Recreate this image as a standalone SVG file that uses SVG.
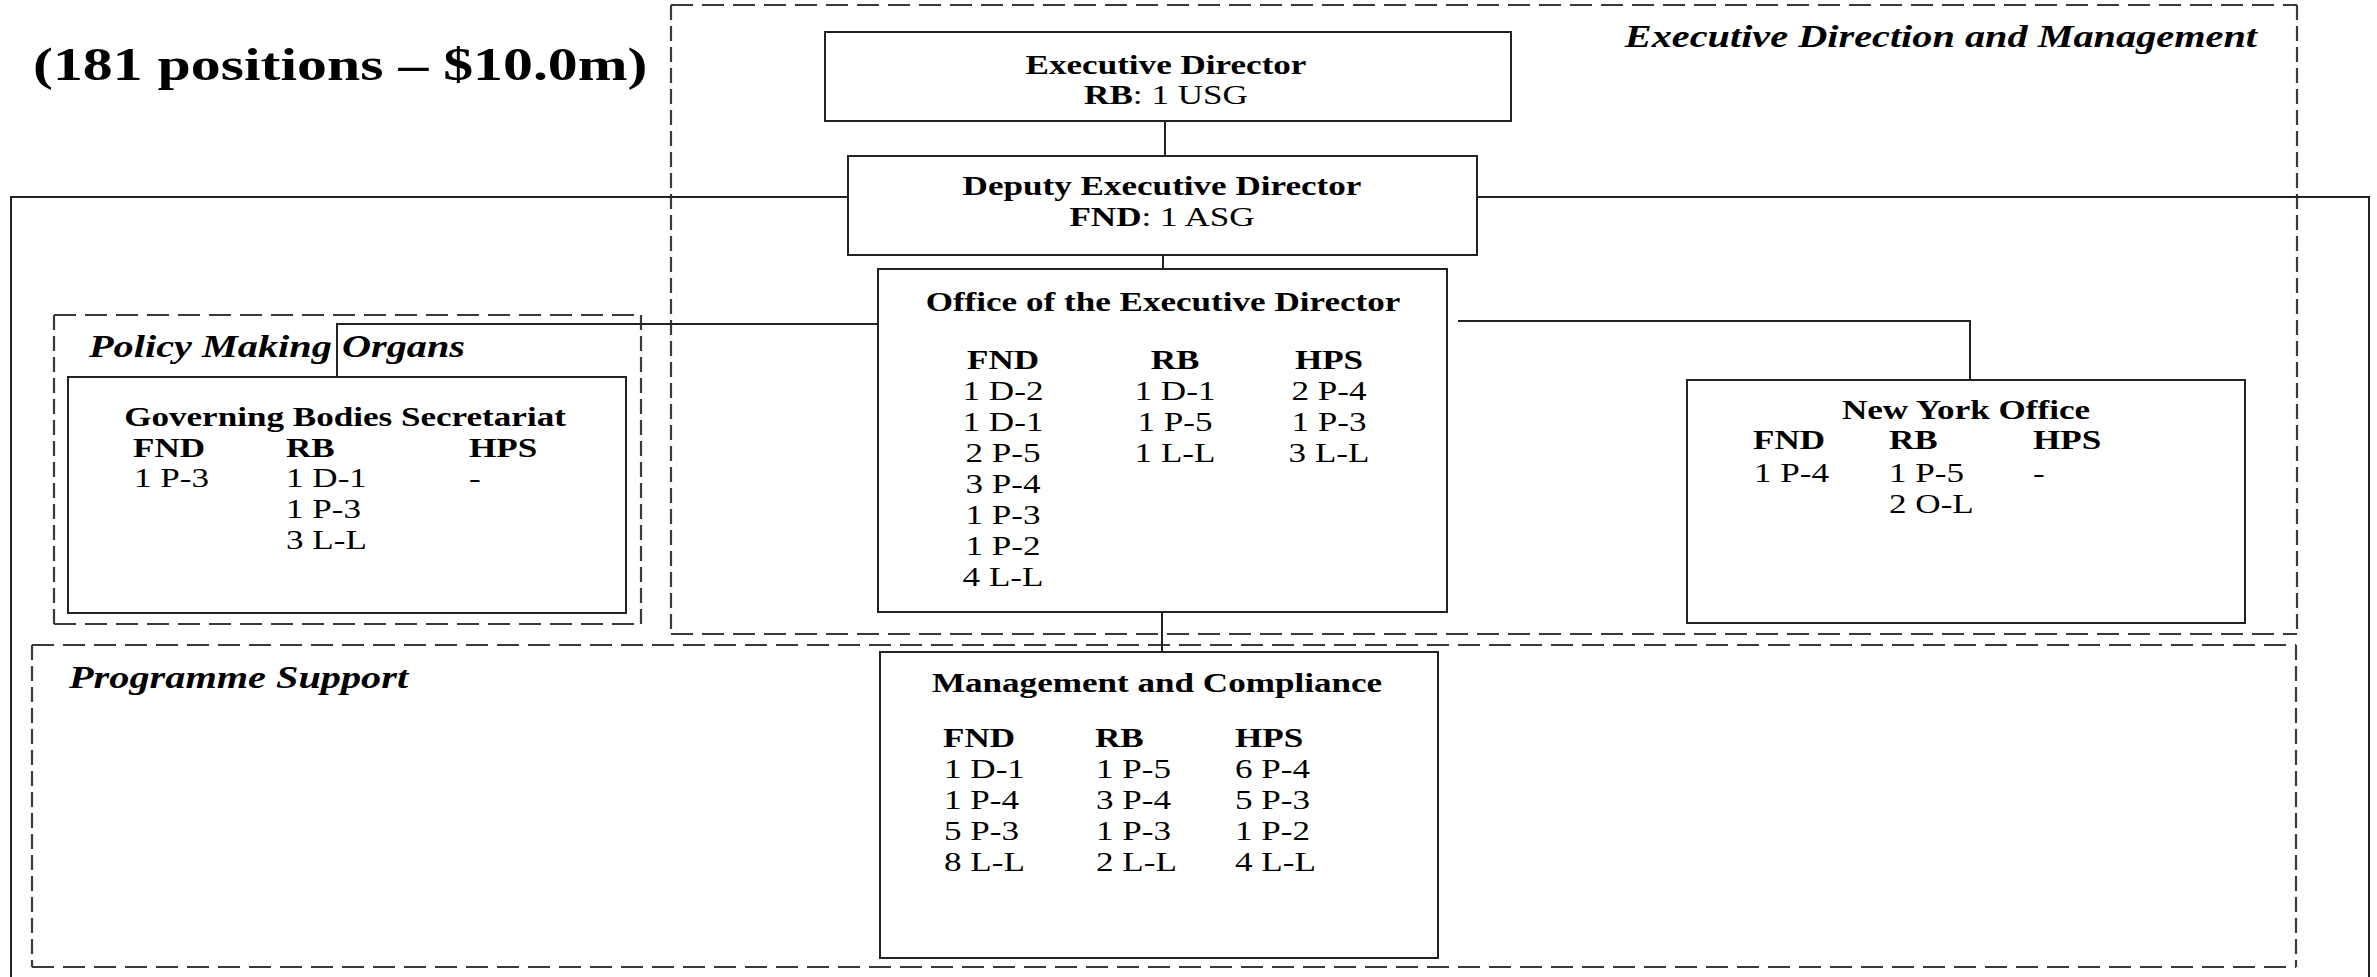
<svg xmlns="http://www.w3.org/2000/svg" width="2377" height="977" viewBox="0 0 2377 977">
<style>
text{font-family:"Liberation Serif","Times New Roman",serif;font-size:27px;fill:#000}
.b{font-weight:bold}
.bi{font-weight:bold;font-style:italic;font-size:31px}
.ttl{font-weight:bold;font-size:46px}
.m{text-anchor:middle}
.e{text-anchor:end}
.box{fill:#fff;stroke:#222;stroke-width:2}
.ln{fill:none;stroke:#222;stroke-width:2}
.dh{fill:none;stroke:#3a3a3a;stroke-width:2.2;stroke-dasharray:22 9}
.dv{fill:none;stroke:#3a3a3a;stroke-width:2.2;stroke-dasharray:15 6}
</style>
<rect width="2377" height="977" fill="#fff"/>
<text class="ttl" transform="matrix(1.3 0 0 1 33 80)">(181 positions – $10.0m)</text>

<g id="group-edm">
<path class="dh" d="M671 5H2297M671 634H2297"/>
<path class="dv" d="M671 5V634M2297 5V634"/>
<text class="bi e" transform="matrix(1.3 0 0 1 2257 47)">Executive Direction and Management</text>
</g>
<g id="group-pmo">
<path class="dh" d="M54 315H641M54 624H641"/>
<path class="dv" d="M54 315V624M641 315V624"/>
<text class="bi" transform="matrix(1.3 0 0 1 89 357)">Policy Making Organs</text>
</g>
<g id="group-ps">
<path class="dh" d="M32 645H2296M32 967H2296"/>
<path class="dv" d="M32 645V967M2296 645V967"/>
<text class="bi" transform="matrix(1.3 0 0 1 69 688)">Programme Support</text>
</g>

<g id="connectors">
<path class="ln" d="M1165 121V156"/>
<path class="ln" d="M1163 255V269"/>
<path class="ln" d="M11 977V197H848"/>
<path class="ln" d="M1477 197H2369V977"/>
<path class="ln" d="M878 324H337V377"/>
<path class="ln" d="M1458 321H1970V380"/>
<path class="ln" d="M1162 612V652"/>
</g>

<g id="node-ed">
<rect class="box" x="825" y="32" width="686" height="89"/>
<text class="b m" transform="matrix(1.3 0 0 1 1166 74)">Executive Director</text>
<text class="m" transform="matrix(1.3 0 0 1 1166 104)"><tspan class="b">RB</tspan>: 1 USG</text>
</g>

<g id="node-ded">
<rect class="box" x="848" y="156" width="629" height="99"/>
<text class="b m" transform="matrix(1.3 0 0 1 1162 195)">Deputy Executive Director</text>
<text class="m" transform="matrix(1.3 0 0 1 1162 226)"><tspan class="b">FND</tspan>: 1 ASG</text>
</g>

<g id="node-oed">
<rect class="box" x="878" y="269" width="569" height="343"/>
<text class="b m" transform="matrix(1.3 0 0 1 1163 311)">Office of the Executive Director</text>
<text class="b m" transform="matrix(1.3 0 0 1 1003 369)">FND</text>
<text class="b m" transform="matrix(1.3 0 0 1 1175 369)">RB</text>
<text class="b m" transform="matrix(1.3 0 0 1 1329 369)">HPS</text>
<text class="m" transform="matrix(1.3 0 0 1 1003 400)">1 D-2</text>
<text class="m" transform="matrix(1.3 0 0 1 1003 431)">1 D-1</text>
<text class="m" transform="matrix(1.3 0 0 1 1003 462)">2 P-5</text>
<text class="m" transform="matrix(1.3 0 0 1 1003 493)">3 P-4</text>
<text class="m" transform="matrix(1.3 0 0 1 1003 524)">1 P-3</text>
<text class="m" transform="matrix(1.3 0 0 1 1003 555)">1 P-2</text>
<text class="m" transform="matrix(1.3 0 0 1 1003 586)">4 L-L</text>
<text class="m" transform="matrix(1.3 0 0 1 1175 400)">1 D-1</text>
<text class="m" transform="matrix(1.3 0 0 1 1175 431)">1 P-5</text>
<text class="m" transform="matrix(1.3 0 0 1 1175 462)">1 L-L</text>
<text class="m" transform="matrix(1.3 0 0 1 1329 400)">2 P-4</text>
<text class="m" transform="matrix(1.3 0 0 1 1329 431)">1 P-3</text>
<text class="m" transform="matrix(1.3 0 0 1 1329 462)">3 L-L</text>
</g>

<g id="node-gbs">
<rect class="box" x="68" y="377" width="558" height="236"/>
<text class="b m" transform="matrix(1.3 0 0 1 345 426)">Governing Bodies Secretariat</text>
<text class="b" transform="matrix(1.3 0 0 1 133 457)">FND</text>
<text class="b" transform="matrix(1.3 0 0 1 286 457)">RB</text>
<text class="b" transform="matrix(1.3 0 0 1 469 457)">HPS</text>
<text transform="matrix(1.3 0 0 1 134 487)">1 P-3</text>
<text transform="matrix(1.3 0 0 1 286 487)">1 D-1</text>
<text transform="matrix(1.3 0 0 1 286 518)">1 P-3</text>
<text transform="matrix(1.3 0 0 1 286 549)">3 L-L</text>
<text transform="matrix(1.3 0 0 1 469 487)">-</text>
</g>

<g id="node-ny">
<rect class="box" x="1687" y="380" width="558" height="243"/>
<text class="b m" transform="matrix(1.3 0 0 1 1966 419)">New York Office</text>
<text class="b" transform="matrix(1.3 0 0 1 1753 449)">FND</text>
<text class="b" transform="matrix(1.3 0 0 1 1889 449)">RB</text>
<text class="b" transform="matrix(1.3 0 0 1 2033 449)">HPS</text>
<text transform="matrix(1.3 0 0 1 1754 482)">1 P-4</text>
<text transform="matrix(1.3 0 0 1 1889 482)">1 P-5</text>
<text transform="matrix(1.3 0 0 1 1889 513)">2 O-L</text>
<text transform="matrix(1.3 0 0 1 2033 482)">-</text>
</g>

<g id="node-mc">
<rect class="box" x="880" y="652" width="558" height="306"/>
<text class="b m" transform="matrix(1.3 0 0 1 1157 692)">Management and Compliance</text>
<text class="b" transform="matrix(1.3 0 0 1 943 747)">FND</text>
<text class="b" transform="matrix(1.3 0 0 1 1095 747)">RB</text>
<text class="b" transform="matrix(1.3 0 0 1 1235 747)">HPS</text>
<text transform="matrix(1.3 0 0 1 944 778)">1 D-1</text>
<text transform="matrix(1.3 0 0 1 944 809)">1 P-4</text>
<text transform="matrix(1.3 0 0 1 944 840)">5 P-3</text>
<text transform="matrix(1.3 0 0 1 944 871)">8 L-L</text>
<text transform="matrix(1.3 0 0 1 1096 778)">1 P-5</text>
<text transform="matrix(1.3 0 0 1 1096 809)">3 P-4</text>
<text transform="matrix(1.3 0 0 1 1096 840)">1 P-3</text>
<text transform="matrix(1.3 0 0 1 1096 871)">2 L-L</text>
<text transform="matrix(1.3 0 0 1 1235 778)">6 P-4</text>
<text transform="matrix(1.3 0 0 1 1235 809)">5 P-3</text>
<text transform="matrix(1.3 0 0 1 1235 840)">1 P-2</text>
<text transform="matrix(1.3 0 0 1 1235 871)">4 L-L</text>
</g>
</svg>
